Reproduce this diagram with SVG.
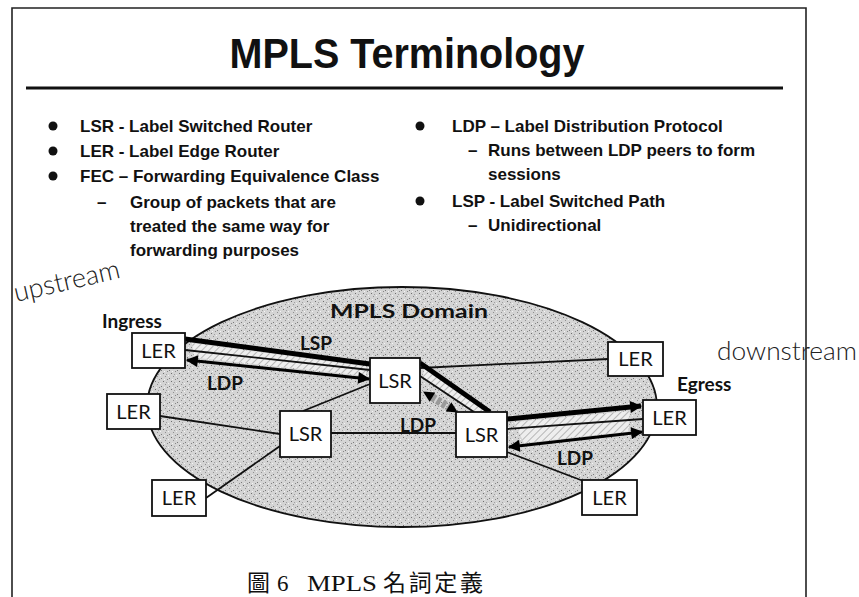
<svg xmlns="http://www.w3.org/2000/svg" width="859" height="597" viewBox="0 0 859 597">
<style>
.bt{font-family:"Liberation Sans",Arial,sans-serif;font-weight:bold;font-size:17px;fill:#111}
.nd{fill:#fff;stroke:#111;stroke-width:1.8}
.nt{font-family:Lato,"Liberation Sans",sans-serif;font-size:20px;fill:#111;text-anchor:middle}
.lb{font-family:Lato,"Liberation Sans",sans-serif;font-weight:bold;font-size:19px;fill:#111}
.lk{stroke:#111;stroke-width:1.8;fill:none}
.lsp{stroke:#000;stroke-width:5;fill:none}
.ldp{stroke:#000;stroke-width:3;fill:none}
.hw{font-family:Lato,"DejaVu Sans",sans-serif;font-weight:300;fill:#222}
</style>
<defs>
<pattern id="stip" width="8" height="8" patternUnits="userSpaceOnUse">
<rect width="8" height="8" fill="#d4d4d4"/>
<rect x="1" y="2" width="1" height="1" fill="#7a7a7a"/>
<rect x="5" y="0" width="1" height="1" fill="#909090"/>
<rect x="3" y="5" width="1" height="1" fill="#6e6e6e"/>
<rect x="6" y="6" width="1" height="1" fill="#a0a0a0"/>
<rect x="0" y="7" width="1" height="1" fill="#f4f4f4"/>
<rect x="4" y="3" width="1" height="1" fill="#f4f4f4"/>
<rect x="7" y="3" width="1" height="1" fill="#888"/>
</pattern>
<pattern id="hatch" width="5" height="5" patternUnits="userSpaceOnUse" patternTransform="rotate(45)">
<rect width="5" height="5" fill="#eeeeee"/>
<line x1="0" y1="0" x2="0" y2="5" stroke="#a8a8a8" stroke-width="1.6"/>
</pattern>
<marker id="ah" viewBox="0 0 10 10" refX="9" refY="5" markerWidth="15" markerHeight="12" markerUnits="userSpaceOnUse" orient="auto-start-reverse">
<path d="M0,0 L10,5 L0,10 z" fill="#000"/>
</marker>
<marker id="ahs" viewBox="0 0 10 10" refX="9" refY="5" markerWidth="12" markerHeight="11" markerUnits="userSpaceOnUse" orient="auto-start-reverse">
<path d="M0,0 L10,5 L0,10 z" fill="#000"/>
</marker>
</defs>
<rect width="859" height="597" fill="#fff"/>
<path d="M12,597 V8 H806 V597" fill="none" stroke="#222" stroke-width="1.6"/>
<text x="407" y="68" text-anchor="middle" font-family="'Liberation Sans',Arial,sans-serif" font-weight="bold" font-size="42" textLength="355" lengthAdjust="spacingAndGlyphs" fill="#111">MPLS Terminology</text>
<line x1="26" y1="88" x2="783" y2="88" stroke="#111" stroke-width="3"/>

<g id="bullets-left">
<circle cx="53" cy="126" r="4.5" fill="#111"/>
<text class="bt" x="80" y="132">LSR - Label Switched Router</text>
<circle cx="53" cy="151" r="4.5" fill="#111"/>
<text class="bt" x="80" y="157">LER - Label Edge Router</text>
<circle cx="53" cy="176" r="4.5" fill="#111"/>
<text class="bt" x="80" y="182">FEC – Forwarding Equivalence Class</text>
<text class="bt" x="97" y="208">–</text>
<text class="bt" x="130" y="208">Group of packets that are</text>
<text class="bt" x="130" y="232">treated the same way for</text>
<text class="bt" x="130" y="256">forwarding purposes</text>
</g>
<g id="bullets-right">
<circle cx="420" cy="126" r="4.5" fill="#111"/>
<text class="bt" x="452" y="132">LDP – Label Distribution Protocol</text>
<text class="bt" x="468" y="156">–</text>
<text class="bt" x="488" y="156">Runs between LDP peers to form</text>
<text class="bt" x="488" y="180">sessions</text>
<circle cx="420" cy="201" r="4.5" fill="#111"/>
<text class="bt" x="452" y="207">LSP - Label Switched Path</text>
<text class="bt" x="468" y="231">–</text>
<text class="bt" x="488" y="231">Unidirectional</text>
</g>

<text class="hw" x="16" y="302" font-size="27" transform="rotate(-13 16 302)">upstream</text>
<text class="hw" x="717" y="360" font-size="25" textLength="140" lengthAdjust="spacingAndGlyphs">downstream</text>

<g id="domain">
<ellipse cx="402" cy="407" rx="255" ry="120" fill="url(#stip)" stroke="#111" stroke-width="1.8"/>
<text class="lb" x="330" y="318" font-size="24" textLength="158" lengthAdjust="spacingAndGlyphs">MPLS Domain</text>
</g>

<g id="connectors">
<polygon points="192,343 366,366.5 366,376 194,357.5" fill="url(#hatch)"/>
<polygon points="514,422 630,411 628,431.5 524,443" fill="url(#hatch)"/>
<polygon points="424,368 486,412 475,412 423,377" fill="url(#hatch)"/>
<line class="lk" x1="160" y1="416" x2="280" y2="434"/>
<line class="lk" x1="206" y1="498" x2="280" y2="446"/>
<line class="lk" x1="303" y1="411" x2="370" y2="384"/>
<line class="lk" x1="331" y1="433" x2="456" y2="433"/>
<line class="lk" x1="420" y1="368" x2="608" y2="359"/>
<line class="lk" x1="420" y1="376" x2="474" y2="412"/>
<line class="lk" x1="507" y1="429" x2="643" y2="419"/>
<line class="lk" x1="507" y1="452" x2="586" y2="482"/>
<line class="lk" x1="185" y1="350" x2="370" y2="370"/>
<line class="lsp" x1="185" y1="339" x2="370" y2="364"/>
<line class="lsp" x1="420" y1="363" x2="490" y2="412"/>
<line class="lsp" x1="507" y1="419" x2="641" y2="406" marker-end="url(#ah)"/>
<line class="ldp" x1="187" y1="360" x2="369" y2="379" marker-start="url(#ah)" marker-end="url(#ah)"/>
<line x1="432" y1="397" x2="450" y2="408" stroke="#9a9a9a" stroke-width="8" stroke-dasharray="4 2"/>
<line x1="424" y1="392" x2="457" y2="412" stroke="none" marker-start="url(#ahs)" marker-end="url(#ahs)"/>
<line class="ldp" x1="509" y1="447" x2="642" y2="432" marker-start="url(#ah)" marker-end="url(#ah)"/>
<text class="lb" x="300" y="350">LSP</text>
<text class="lb" x="207" y="390">LDP</text>
<text class="lb" x="400" y="432">LDP</text>
<text class="lb" x="557" y="465">LDP</text>
</g>

<g id="ler-ingress"><rect class="nd" x="132" y="333" width="53" height="35"/><text class="nt" x="158.5" y="358">LER</text></g>
<g id="ler-left"><rect class="nd" x="107" y="394" width="53" height="35"/><text class="nt" x="133.5" y="419">LER</text></g>
<g id="ler-bottom-left"><rect class="nd" x="152" y="480" width="54" height="36"/><text class="nt" x="179" y="505">LER</text></g>
<g id="lsr-left"><rect class="nd" x="280" y="411" width="51" height="46"/><text class="nt" x="305.5" y="441">LSR</text></g>
<g id="lsr-top"><rect class="nd" x="370" y="358" width="50" height="45"/><text class="nt" x="395" y="388">LSR</text></g>
<g id="lsr-right"><rect class="nd" x="456" y="412" width="51" height="45"/><text class="nt" x="481.5" y="442">LSR</text></g>
<g id="ler-top-right"><rect class="nd" x="608" y="342" width="55" height="34"/><text class="nt" x="635.5" y="366">LER</text></g>
<g id="ler-egress"><rect class="nd" x="643" y="400" width="53" height="35"/><text class="nt" x="669.5" y="425">LER</text></g>
<g id="ler-bottom-right"><rect class="nd" x="582" y="480" width="55" height="35"/><text class="nt" x="609.5" y="505">LER</text></g>
<text class="lb" x="102" y="328" font-weight="normal" font-size="19">Ingress</text>
<text class="lb" x="677" y="391" font-weight="normal" font-size="19">Egress</text>

<g id="caption" font-family="'Liberation Serif','Noto Sans CJK TC',serif" font-size="23" fill="#111">
<text x="247" y="591">圖</text>
<text x="277" y="591">6</text>
<text x="307" y="591" textLength="70" lengthAdjust="spacingAndGlyphs">MPLS</text>
<text x="383" y="591" textLength="100" lengthAdjust="spacing">名詞定義</text>
</g>
</svg>
